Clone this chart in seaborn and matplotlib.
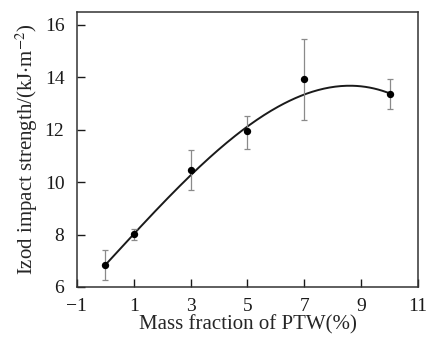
import numpy as np
import pandas as pd
import matplotlib
matplotlib.use("Agg")
import matplotlib.pyplot as plt
import seaborn as sns

# Data
mass_fraction = [0, 1, 3, 5, 7, 10]
impact_strength = [6.85, 8.01, 10.48, 11.94, 13.93, 13.38]
err_upper = [0.55, 0.22, 0.74, 0.60, 1.55, 0.54]
err_lower = [0.57, 0.23, 0.79, 0.67, 1.57, 0.57]
x_ticks = [-1, 1, 3, 5, 7, 9, 11]
y_ticks = [6, 8, 10, 12, 14, 16]

df = pd.DataFrame({"x": mass_fraction, "y": impact_strength})

# weighted cubic fit (weights from the error bars)
sigma = (np.array(err_upper) + np.array(err_lower)) / 2
coef = np.polyfit(mass_fraction, impact_strength, 3, w=1 / sigma)
xf = np.linspace(min(mass_fraction), max(mass_fraction), 200)
fit = pd.DataFrame({"x": xf, "y": np.polyval(coef, xf)})

sns.set_style("white")
plt.rcParams["font.family"] = ["Liberation Serif", "DejaVu Serif"]
plt.rcParams["mathtext.fontset"] = "stix"

fig = plt.figure(figsize=(4.27, 3.40), dpi=100)
ax = fig.add_axes([0.180, 0.156, 0.799, 0.809])

sns.lineplot(data=fit, x="x", y="y", ax=ax, color="#1a1a1a", lw=1.4)

ax.errorbar(mass_fraction, impact_strength, yerr=[err_lower, err_upper], fmt="none",
            ecolor="#8a8a8a", elinewidth=0.9, capsize=2.5, capthick=0.9, zorder=3)
sns.scatterplot(data=df, x="x", y="y", ax=ax, color="black", s=28,
                edgecolor="black", linewidth=0, zorder=4)

ax.set_xlim(-1, 11)
ax.set_ylim(6, 16.5)
ax.set_xticks(x_ticks)
ax.set_xticklabels([str(t).replace("-", "\u2212") for t in x_ticks])
ax.set_yticks(y_ticks)
ax.tick_params(direction="in", length=6, width=1.0, labelsize=14,
               top=False, right=False, bottom=True, left=True, colors="#1a1a1a")
ax.tick_params(axis="x", pad=8)
ax.tick_params(axis="y", pad=9)
for s in ax.spines.values():
    s.set_color("#333333")
    s.set_linewidth(1.1)

ax.set_xlabel("Mass fraction of PTW(%)", fontsize=15, labelpad=0)
ax.set_ylabel(r"Izod impact strength/(kJ$\cdot$m$^{-2}$)", fontsize=15, labelpad=3)

fig.savefig("out.png", dpi=100)
